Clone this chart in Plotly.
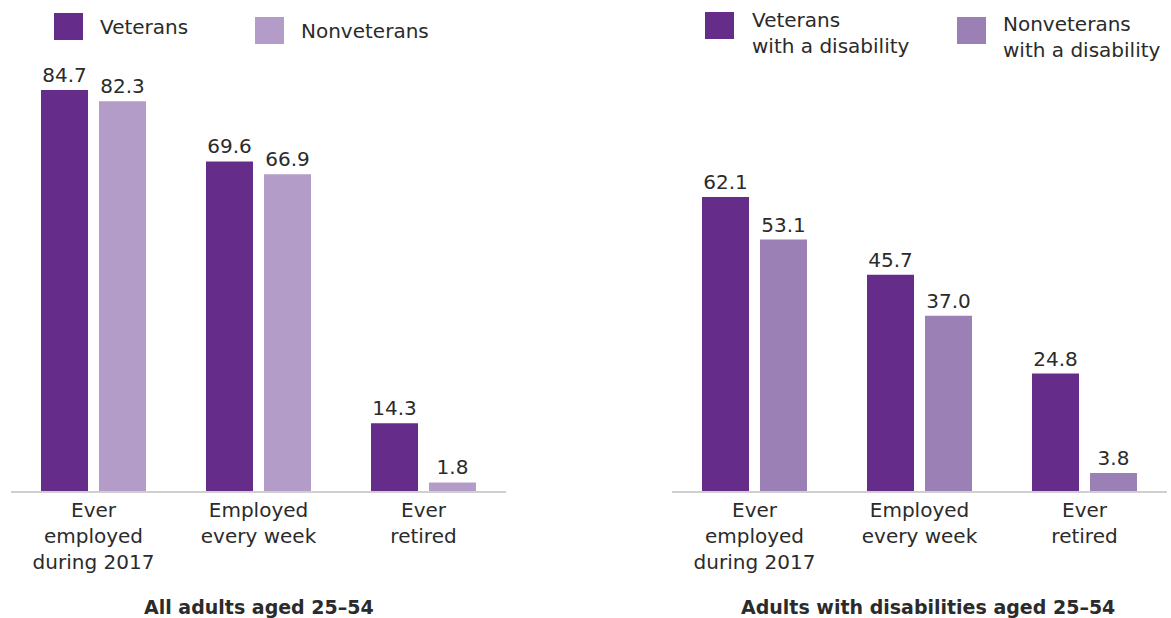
import plotly.graph_objects as go

categories = ["Ever<br>employed<br>during 2017", "Employed<br>every week", "Ever<br>retired"]
all_veterans = [84.7, 69.6, 14.3]
all_nonveterans = [82.3, 66.9, 1.8]
dis_veterans = [62.1, 45.7, 24.8]
dis_nonveterans = [53.1, 37.0, 3.8]

C_VET = "#652C89"
C_NON1 = "#B39DC8"
C_NON2 = "#9B80B6"
FONT = "DejaVu Sans"
TXT = "#2b2b2b"

fig = go.Figure()

def add(x, y, color, xa, ya):
    fig.add_trace(go.Bar(
        x=x, y=y, marker=dict(color=color, line=dict(width=0)),
        text=[f"{v:.1f}" for v in y], textposition="outside",
        textfont=dict(family=FONT, size=20, color=TXT),
        cliponaxis=False, showlegend=False, xaxis=xa, yaxis=ya,
        hoverinfo="skip"))

add(categories, all_veterans, C_VET, "x", "y")
add(categories, all_nonveterans, C_NON1, "x", "y")
add(categories, dis_veterans, C_VET, "x2", "y2")
add(categories, dis_nonveterans, C_NON2, "x2", "y2")

W, H = 1171, 618
ytop, ybase = 60, 491
pxu = 401 / 84.7
yr = [0, (ybase - ytop) / pxu]
ydom = [(H - ybase) / H, (H - ytop) / H]

xcommon = dict(showgrid=False, zeroline=False, showline=True, linecolor="#cfcfcf",
               linewidth=2, ticks="", tickfont=dict(family=FONT, size=20, color=TXT),
               fixedrange=True)
ycommon = dict(visible=False, range=yr, domain=ydom, showgrid=False, zeroline=False)

fig.update_layout(
    width=W, height=H, margin=dict(l=0, r=0, t=0, b=0),
    paper_bgcolor="white", plot_bgcolor="white",
    barmode="group", bargap=0.297, bargroupgap=0.19,
    font=dict(family=FONT, color=TXT),
    xaxis=dict(domain=[11 / W, 506 / W], anchor="y", **xcommon),
    xaxis2=dict(domain=[672 / W, 1167 / W], anchor="y2", **xcommon),
    yaxis=dict(anchor="x", **ycommon),
    yaxis2=dict(anchor="x2", **ycommon),
)

# legend swatches and labels
def swatch(x0, y0, color, label, tx, ty):
    fig.add_shape(type="rect", xref="paper", yref="paper",
                  x0=x0 / W, x1=(x0 + 29) / W, y0=1 - (y0 + 27) / H, y1=1 - y0 / H,
                  fillcolor=color, line=dict(width=0))
    fig.add_annotation(text=label, xref="paper", yref="paper", x=tx / W, y=1 - ty / H,
                       xanchor="left", yanchor="middle", showarrow=False, align="left",
                       font=dict(family=FONT, size=20, color=TXT))

swatch(54, 13, C_VET, "Veterans", 98, 27)
swatch(255, 17, C_NON1, "Nonveterans", 299, 31)
swatch(705, 12, C_VET, "Veterans<br>with a disability", 750, 33)
swatch(957, 17, C_NON2, "Nonveterans<br>with a disability", 1001, 37)

for txt, cx in [("All adults aged 25–54", 259), ("Adults with disabilities aged 25–54", 928)]:
    fig.add_annotation(text=f"<b>{txt}</b>", xref="paper", yref="paper", x=cx / W,
                       y=1 - 607 / H, xanchor="center", yanchor="middle", showarrow=False,
                       font=dict(family=FONT, size=19, color=TXT))

fig.write_html("out.html")
